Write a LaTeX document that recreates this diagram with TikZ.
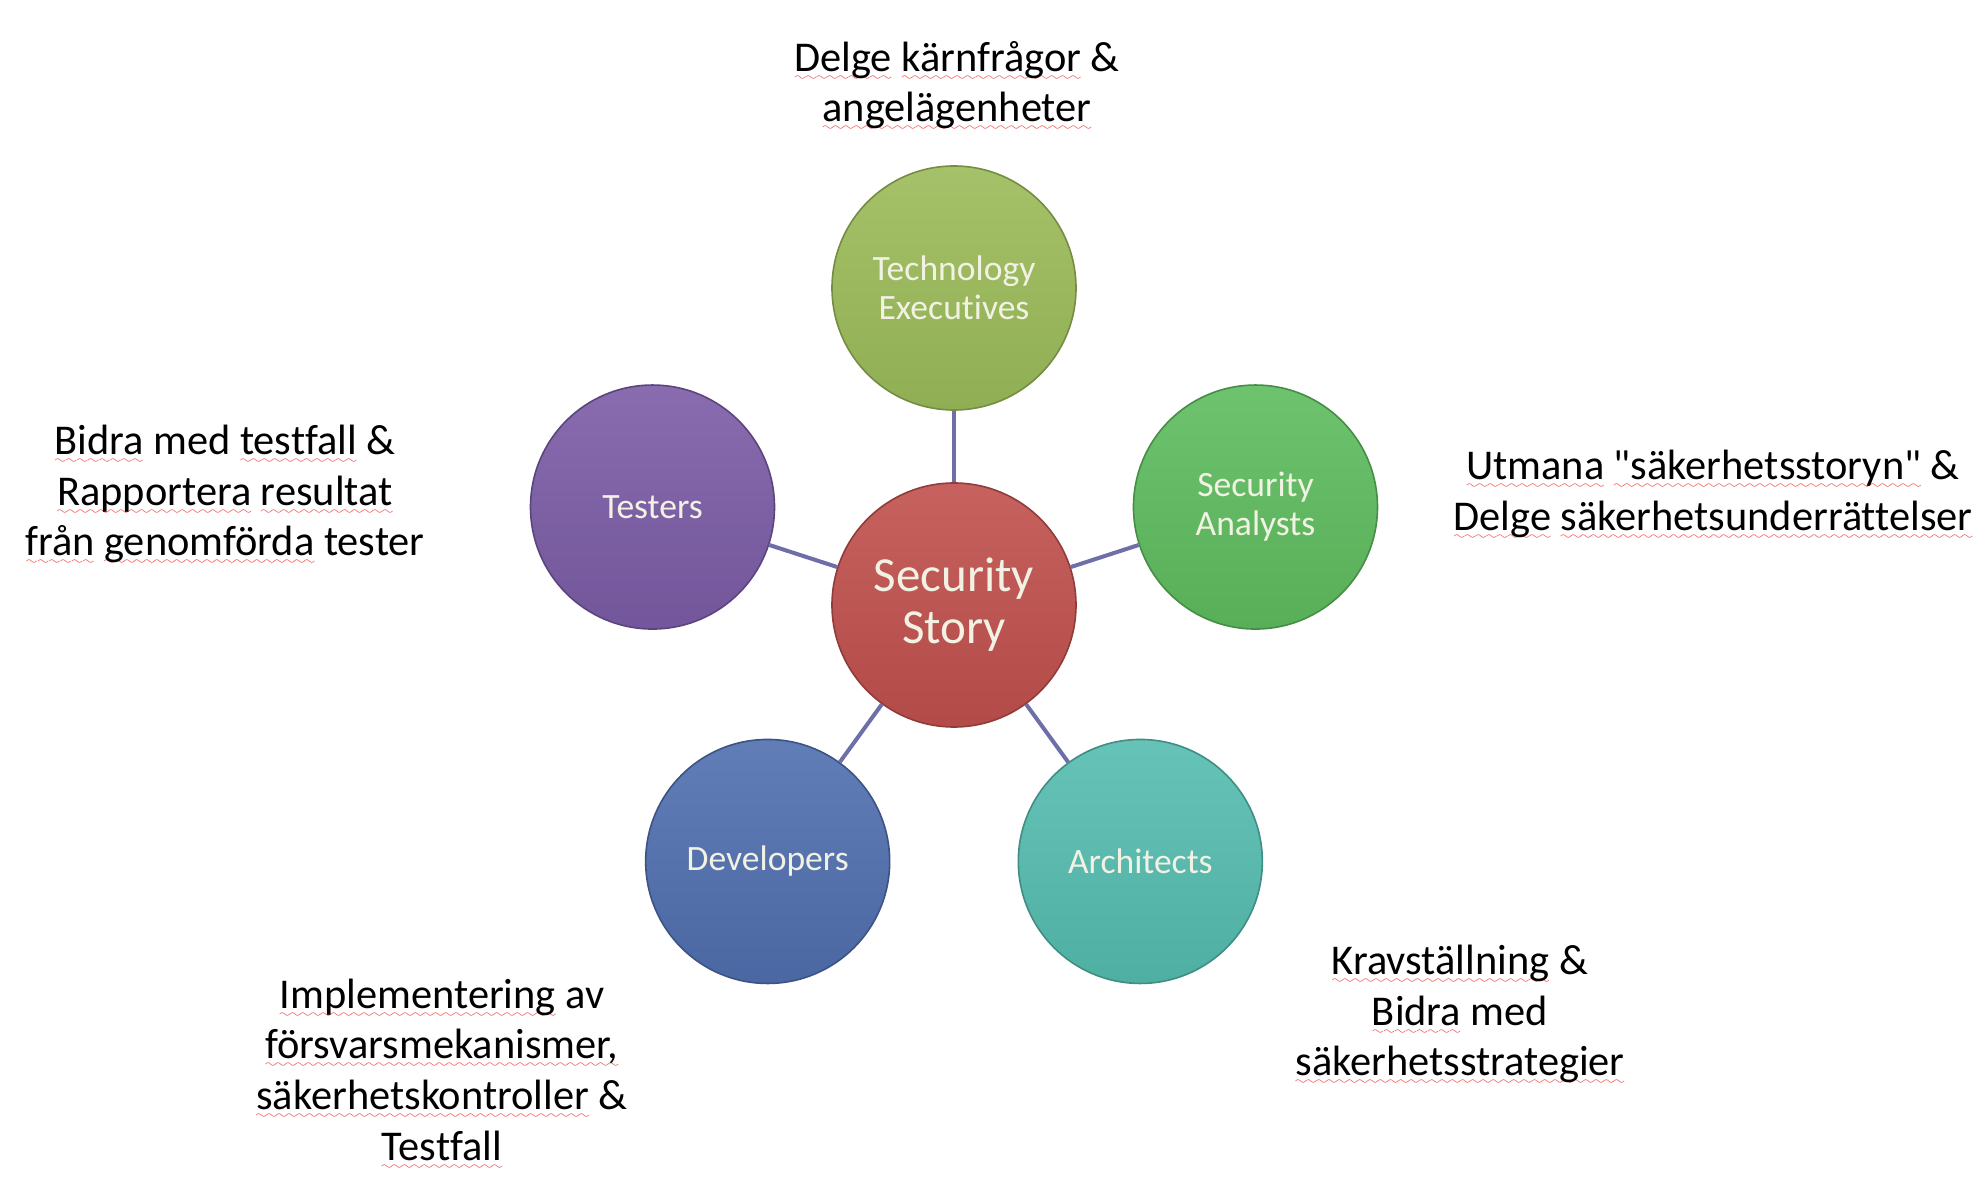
\documentclass[tikz,border=0pt]{standalone}
\usepackage{fontspec}
\setmainfont[Ligatures={NoCommon}]{Carlito}
\newfontfamily\quotefont[Ligatures=ResetAll]{Carlito}
\definecolor{storyred}{HTML}{C0504D}
\definecolor{techgreen}{HTML}{9BBB59}
\definecolor{analystgreen}{HTML}{5EBC5E}
\definecolor{architectteal}{HTML}{55BCAF}
\definecolor{developerblue}{HTML}{506FAF}
\definecolor{testerpurple}{HTML}{7B5CA6}
\definecolor{linkcol}{HTML}{6E6EA8}
\definecolor{rolefg}{HTML}{F2F2E4}
\definecolor{spellred}{HTML}{F04040}
% red wavy spell-check underline
\font\wavefont=lasy6
\newcommand\spell[1]{\setbox0\hbox{#1}%
  \rlap{\color{spellred}\lower4.5pt\hbox to\wd0{\xleaders\hbox{\wavefont\char58}\hfil}}\box0\relax}
\newcommand\dq{{\quotefont"}}
\begin{document}
\begin{tikzpicture}[x=0.5pt,y=0.5pt,
    role/.style={circle, minimum size=122pt, inner sep=0pt, line width=0.8pt,
      draw=#1!75!black, top color=#1!90!white, bottom color=#1!93!black,
      text=rolefg, align=center, font=\fontsize{17.8}{19.5}\selectfont},
    link/.style={draw=linkcol, line width=2pt},
    note/.style={align=center, font=\fontsize{21.2}{25.3}\selectfont}]
  \useasboundingbox (-954,-577) rectangle (1030,605);
  \draw
    (0,0) node[role=storyred, font=\fontsize{24.5}{26}\selectfont] (story) {Security\\Story}
    (90:317) node[role=techgreen] (tech) {Technology\\Executives}
    (18:317) node[role=analystgreen] (analysts) {Security\\Analysts}
    (-54:317) node[role=architectteal] (architects) {Architects}
    (-126:317) node[role=developerblue] (developers) {Developers}
    (162:317) node[role=testerpurple] (testers) {Testers};
  \begin{scope}[link]
    \draw (story) to (tech);
    \draw (story) to (analysts);
    \draw (story) to (architects);
    \draw (story) to (developers);
    \draw (story) to (testers);
  \end{scope}
  % what each role contributes
  \node[note] (technote) at (3,519)
    {\spell{Delge} \spell{kärnfrågor} \&\\\spell{angelägenheter}};
  \node[note] (analystnote) at (759,110)
    {\spell{Utmana} \spell{\dq säkerhetsstoryn\dq} \&\\\spell{Delge} \spell{säkerhetsunderrättelser}};
  \node[note] (architectnote) at (506,-410)
    {\spell{Kravställning} \&\\\spell{Bidra} med\\\spell{säkerhetsstrategier}};
  \node[note] (developernote) at (-512,-469)
    {\spell{Implementering} av\\\spell{försvarsmekanismer,}\\\spell{säkerhetskontroller} \&\\\spell{Testfall}};
  \node[note] (testernote) at (-729,110)
    {\spell{Bidra} med \spell{testfall} \&\\\spell{Rapportera} \spell{resultat}\\\spell{från} \spell{genomförda} tester};
\end{tikzpicture}
\end{document}
